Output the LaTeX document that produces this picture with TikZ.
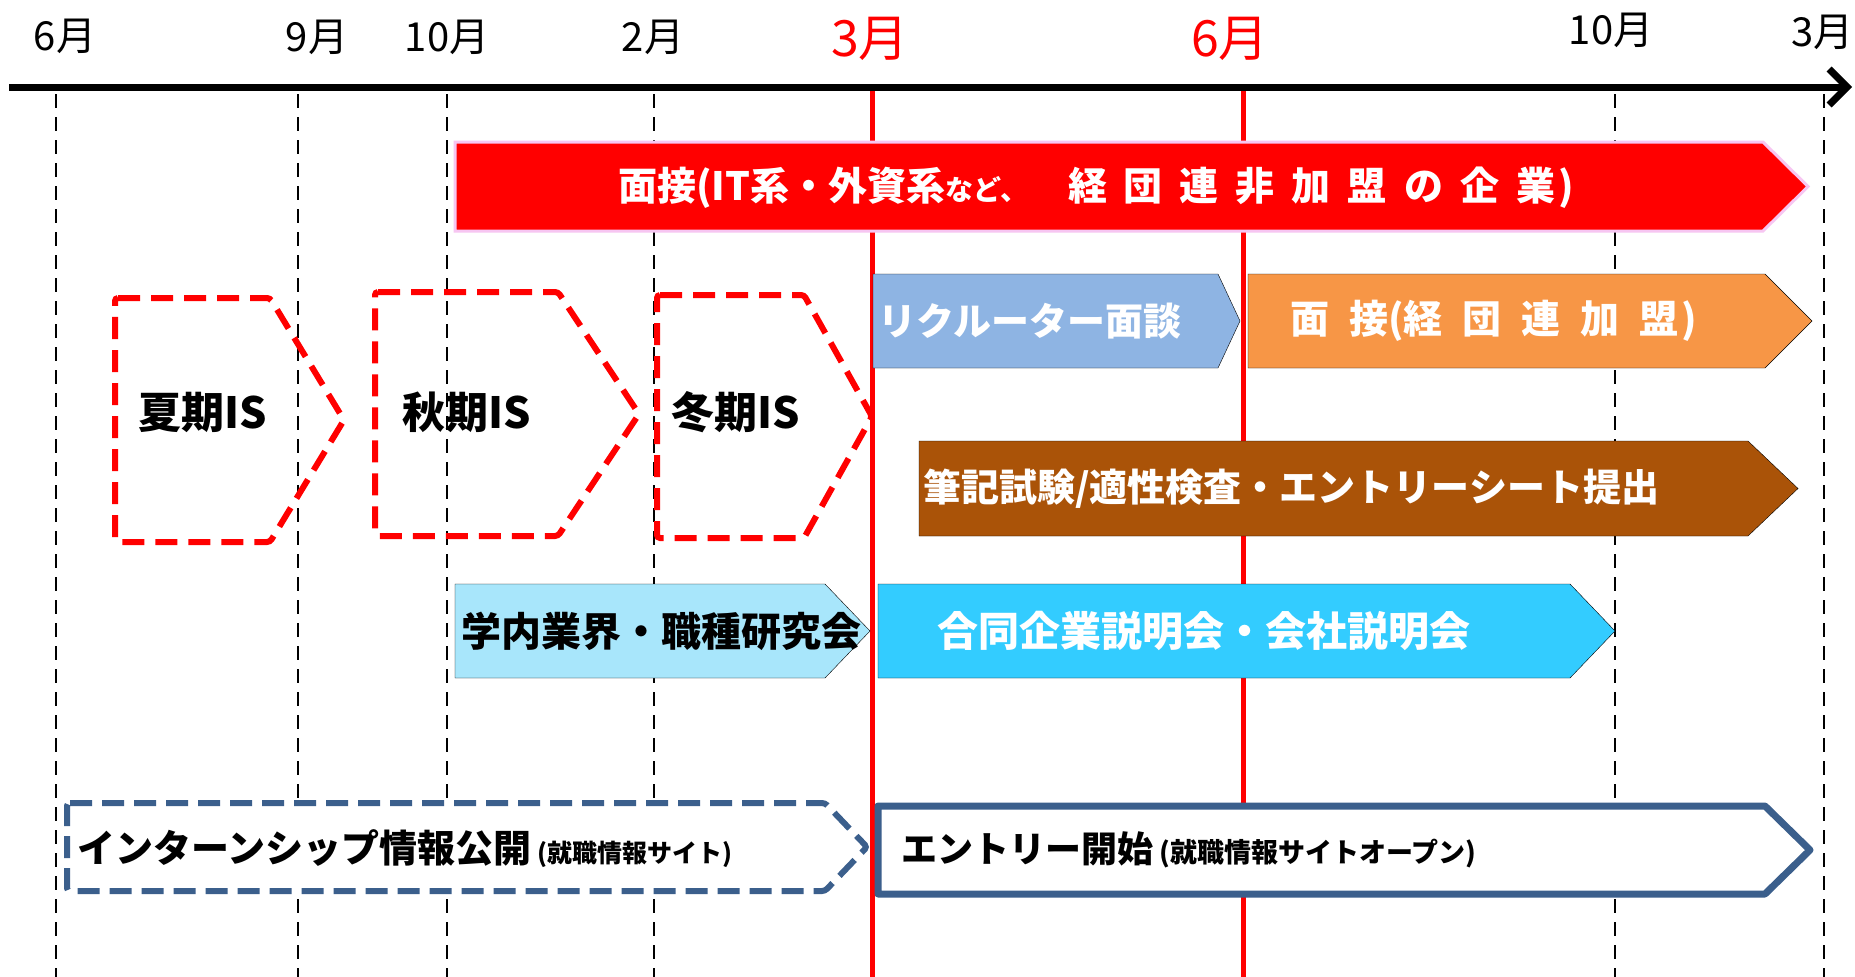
\documentclass[tikz,border=0pt]{standalone}
\usepackage{fontspec}
\setmainfont{Noto Sans CJK JP}
\usetikzlibrary{arrows.meta}
\definecolor{pinkb}{HTML}{F7C6F2}
\definecolor{recblue}{HTML}{8EB4E3}
\definecolor{orng}{HTML}{F79646}
\definecolor{brwn}{HTML}{AA5308}
\definecolor{lcyan}{HTML}{A8E6FB}
\definecolor{cyanb}{HTML}{33CCFF}
\definecolor{dblue}{HTML}{3B5F8C}
\tikzset{
  gridline/.style={black, line width=1.5pt, dash pattern=on 14pt off 9pt},
  redline/.style={red, line width=5pt},
  axisline/.style={black, line width=7pt, -{Straight Barb[length=18pt,width=36pt,line width=7pt]}},
  month/.style={font=\fontsize{40}{40}\selectfont, inner sep=0pt, text=black},
  redmonth/.style={font=\fontsize{50}{50}\selectfont, inner sep=0pt, text=red},
  redbig/.style={fill=red, draw=pinkb, line width=3pt},
  recbox/.style={fill=recblue},
  orbox/.style={fill=orng},
  brbox/.style={fill=brwn},
  lcbox/.style={fill=lcyan},
  cybox/.style={fill=cyanb},
  isbox/.style={draw=red, line width=6pt, dash pattern=on 22pt off 11pt, rounded corners=3pt},
  internbox/.style={draw=dblue, fill=white, line width=6pt, dash pattern=on 22pt off 10pt, rounded corners=3pt},
  entrybox/.style={draw=dblue, fill=white, line width=7pt, line join=round},
  lbl/.style={font=\bfseries\fontsize{38}{38}\selectfont, anchor=west, inner sep=0pt},
  wlbl/.style={lbl, text=white},
  blbl/.style={lbl, text=black},
}
\newcommand\mychev[6]{\draw[#1] (#2,#3) -- (#4,#3) -- (#5,{(#3+#6)/2}) -- (#4,#6) -- (#2,#6) -- cycle;}
\begin{document}
\begin{tikzpicture}[x=1pt,y=-1pt]
\useasboundingbox (0,0) rectangle (1855,977);
\fill[white] (0,0) rectangle (1855,977);
% grid lines
\foreach \gx/\gn in {56/ga,298/gb,447/gc,654/gd,1615/ge,1824/gf}{
  \coordinate (\gn t) at (\gx,94);
  \coordinate (\gn b) at (\gx,977);
  \draw[gridline] (\gn t) -- (\gn b);
}
% red month lines
\coordinate (r1t) at (872,87); \coordinate (r1b) at (872,977);
\coordinate (r2t) at (1243,87); \coordinate (r2b) at (1243,977);
\draw[redline] (r1t) -- (r1b);
\draw[redline] (r2t) -- (r2b);
% axis
\coordinate (axL) at (9,87); \coordinate (axR) at (1852,87);
\draw[axisline] (axL) -- (axR);
% month labels
\node[month] (m1) at (65,36) {6月};
\node[month] (m2) at (317,37) {9月};
\node[month] (m3) at (447,37) {10月};
\node[month] (m4) at (653,37) {2月};
\node[redmonth] (m5) at (870,39) {3月};
\node[redmonth] (m6) at (1230,39) {6月};
\node[month] (m7) at (1611,30) {10月};
\node[month, anchor=east] (m8) at (1854,32) {3月};
% red big arrow
\mychev{redbig}{455}{142}{1763}{1808}{231}
\node[wlbl, font=\bfseries\fontsize{39}{39}\selectfont] (t1) at (618,188) {面接(IT系・外資系{\fontsize{28}{28}\selectfont など、}\hspace{40pt}経\hspace{17pt}団\hspace{17pt}連\hspace{17pt}非\hspace{17pt}加\hspace{17pt}盟\hspace{17pt}の\hspace{17pt}企\hspace{17pt}業\hspace{3pt})};
% recruiter / orange
\mychev{recbox}{873}{274}{1218}{1240}{368}
\node[wlbl] (t2) at (878,321) {リクルーター面談};
\mychev{orbox}{1248}{274}{1765}{1812}{368}
\node[wlbl, font=\bfseries\fontsize{39}{39}\selectfont] (t3) at (1290,321) {面\hspace{20pt}接(経\hspace{20pt}団\hspace{20pt}連\hspace{20pt}加\hspace{20pt}盟\hspace{3pt})};
% IS boxes
\mychev{isbox}{115}{298}{270}{344}{542}
\node[blbl, font=\bfseries\fontsize{43}{43}\selectfont] (is1) at (138,412) {夏期IS};
\mychev{isbox}{375}{292}{558}{639}{536}
\node[blbl, font=\bfseries\fontsize{43}{43}\selectfont] (is2) at (402,412) {秋期IS};
\mychev{isbox}{657}{295}{804}{872}{538}
\node[blbl, font=\bfseries\fontsize{43}{43}\selectfont] (is3) at (671,412) {冬期IS};
% brown
\mychev{brbox}{919}{441}{1748}{1798}{536}
\node[wlbl] (t4) at (923,489) {筆記試験/適性検査・エントリーシート提出};
% light cyan / cyan
\mychev{lcbox}{455}{584}{825}{870}{678}
\node[blbl, font=\bfseries\fontsize{40}{40}\selectfont] (t5) at (461,631) {学内業界・職種研究会};
\mychev{cybox}{878}{584}{1570}{1615}{678}
\node[wlbl, font=\bfseries\fontsize{41}{41}\selectfont] (t6) at (937,631) {合同企業説明会・会社説明会};
% intern / entry
\mychev{internbox}{67}{803}{825}{867}{891}
\node[blbl, font=\bfseries\fontsize{38}{38}\selectfont] (t7) at (77,849) {インターンシップ情報公開{\fontsize{25}{25}\selectfont\hspace{6pt}(就職情報サイト)}};
\mychev{entrybox}{878}{806}{1765}{1810}{894}
\node[blbl, font=\bfseries\fontsize{36}{36}\selectfont] (t8) at (901,850) {エントリー開始{\fontsize{27}{27}\selectfont\hspace{6pt}(就職情報サイトオープン)}};
\end{tikzpicture}
\end{document}
